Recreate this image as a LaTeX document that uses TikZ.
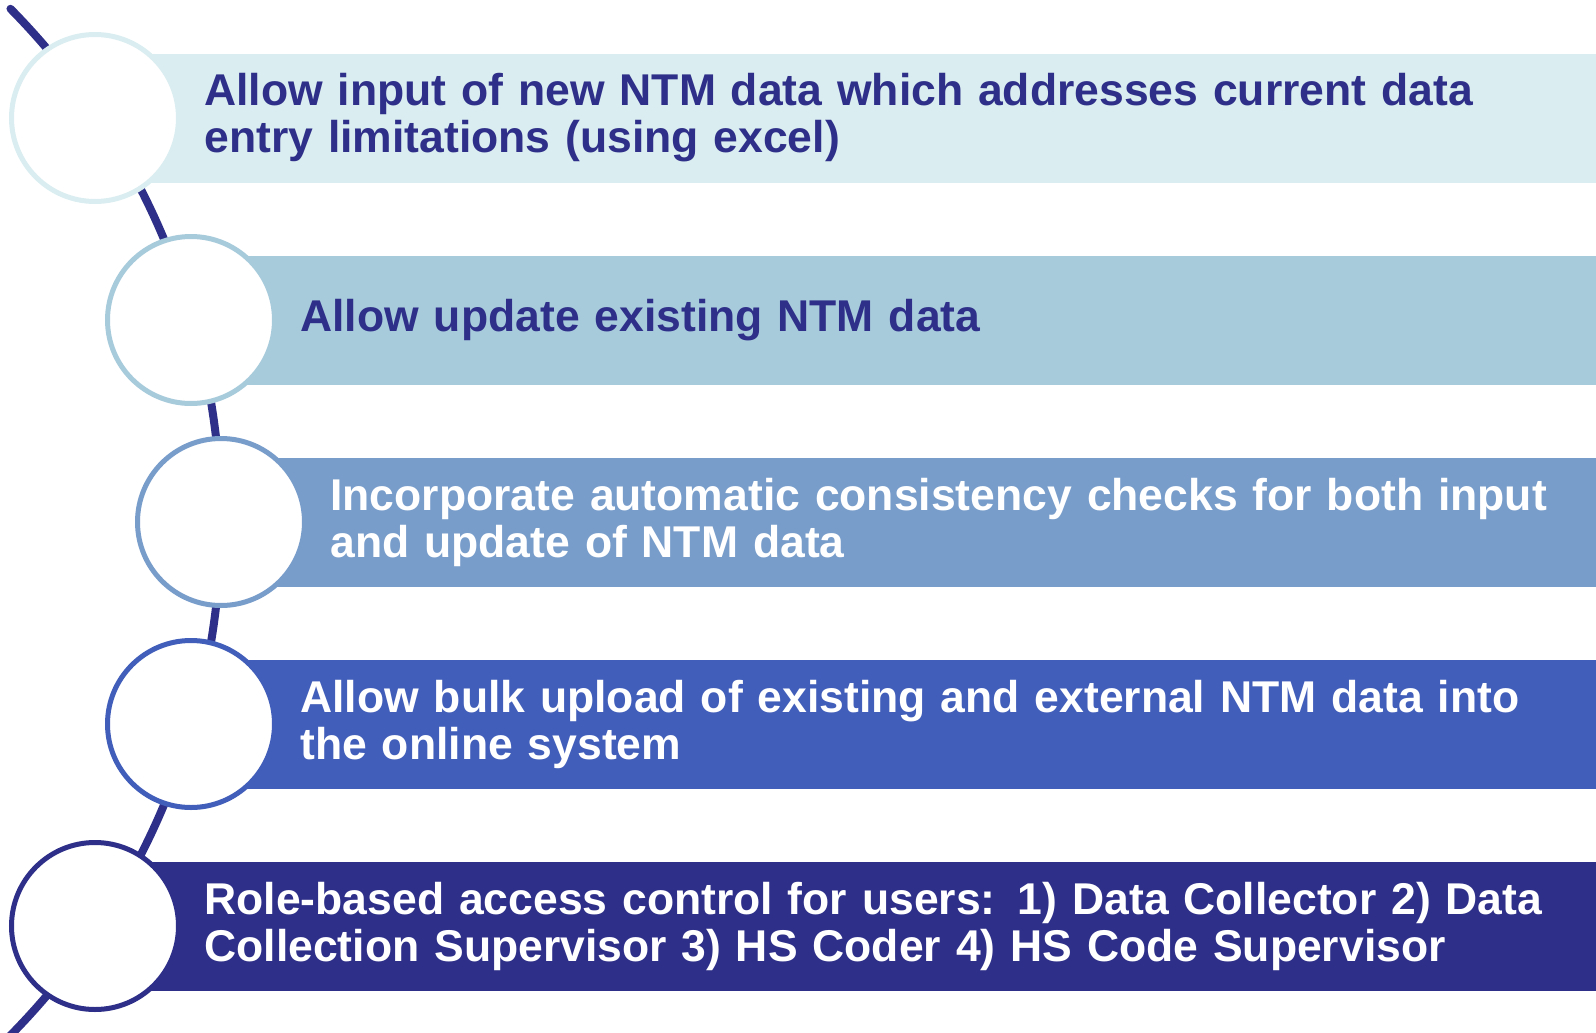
\documentclass[tikz,border=0pt]{standalone}
\usepackage{fontspec}
\setmainfont{Liberation Sans}
\usetikzlibrary{positioning}
\definecolor{navy}{HTML}{2E2F88}
\definecolor{tone1}{HTML}{DAEDF0}
\definecolor{tone2}{HTML}{A8CBDC}
\definecolor{tone3}{HTML}{789DCB}
\definecolor{tone4}{HTML}{415EBA}
\definecolor{tone5}{HTML}{2E2F88}
\newlength{\barheight}
\setlength{\barheight}{64.5pt}
\newlength{\ringsize}
\setlength{\ringsize}{83.5pt}
\newlength{\textgap}
\setlength{\textgap}{54.5pt}
\tikzstyle{bar} = [rectangle, inner xsep=\textgap, inner ysep=0pt, minimum height=\barheight, text width=700pt, align=left, font=\bfseries\fontsize{22.25}{23.5}\selectfont]
\tikzstyle{ring} = [circle, draw, fill=white, line width=2.5pt, minimum size=\ringsize, inner sep=0pt]
\tikzstyle{spine} = [draw=navy, line width=4pt, line cap=round]

\begin{document}
\begin{tikzpicture}[x=0.5pt, y=0.5pt]

    \useasboundingbox (0,0) rectangle (1596,-1033);
    \clip (0,0) rectangle (1596,-1033);

    % Ring centres, from the top
    \coordinate (p1) at (95,-118);
    \coordinate (p2) at (191,-320);
    \coordinate (p3) at (221,-522);
    \coordinate (p4) at (191,-724);
    \coordinate (p5) at (95,-926);

    % Spine behind the rings
    \coordinate (hub) at (-510,-522);
    \draw [spine] (hub) ++(44.6:731) arc[start angle=44.6, end angle=-46, radius=731];

    % Bars
    \node (bar1) [bar, fill=tone1, text=navy, right=0pt of p1] {Allow input of new NTM data which addresses current data\\entry limitations (using excel)};
    \node (bar2) [bar, fill=tone2, text=navy, right=0pt of p2] {Allow update existing NTM data};
    \node (bar3) [bar, fill=tone3, text=white, right=0pt of p3] {Incorporate automatic consistency checks for both input\\and update of NTM data};
    \node (bar4) [bar, fill=tone4, text=white, right=0pt of p4] {Allow bulk upload of existing and external NTM data into\\the online system};
    \node (bar5) [bar, fill=tone5, text=white, right=0pt of p5] {Role-based access control for users: 1) Data Collector 2) Data\\Collection Supervisor 3) HS Coder 4) HS Code Supervisor};

    % Rings
    \node (ring1) [ring, draw=tone1] at (p1) {};
    \node (ring2) [ring, draw=tone2] at (p2) {};
    \node (ring3) [ring, draw=tone3] at (p3) {};
    \node (ring4) [ring, draw=tone4] at (p4) {};
    \node (ring5) [ring, draw=tone5] at (p5) {};

\end{tikzpicture}
\end{document}
